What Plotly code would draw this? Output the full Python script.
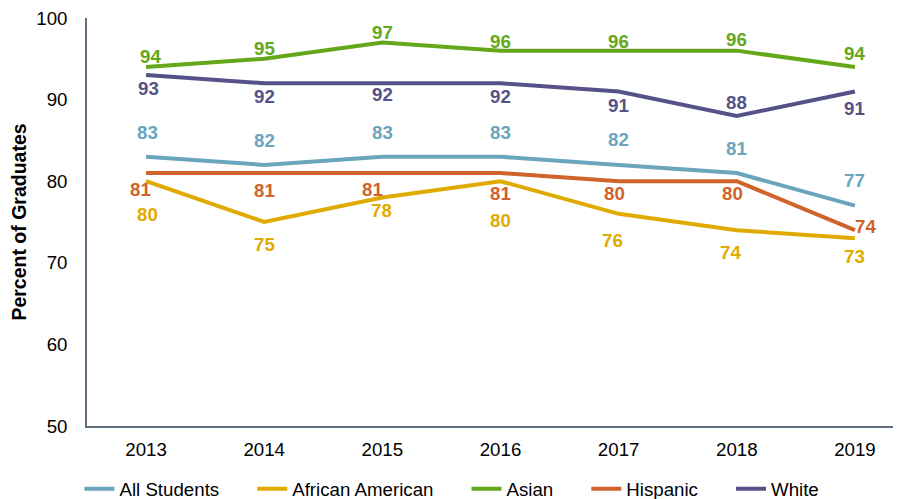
import plotly.graph_objects as go

years = ["2013", "2014", "2015", "2016", "2017", "2018", "2019"]
all_students = [83, 82, 83, 83, 82, 81, 77]
african_american = [80, 75, 78, 80, 76, 74, 73]
asian = [94, 95, 97, 96, 96, 96, 94]
hispanic = [81, 81, 81, 81, 80, 80, 74]
white = [93, 92, 92, 92, 91, 88, 91]

series_names = ["All Students", "African American", "Asian", "Hispanic", "White"]
series_values = [all_students, african_american, asian, hispanic, white]

# style
colors = ["#6aa5bd", "#e0ab00", "#62a81a", "#d0622a", "#545288"]
# label offsets in px (dy: positive = down on screen, dx: positive = right)
label_dy = [
    [-24, -24, -24, -24, -25, -25, -25],
    [33, 22, 13, 39, 27, 22, 18],
    [-10, -10, -10, -9, -9, -11, -13],
    [16, 17, 16, 20, 12, 12, -4],
    [13, 13, 11, 13, 14, -13, 17],
]
label_dx = [
    [1, 0, 0, 0, 0, 0, 0],
    [1, 0, -1, 0, -6, -6, 0],
    [4, 0, 0, 0, 0, 0, 0],
    [-6, 0, -10, 0, -4, -4, 11],
    [2, 0, 0, 0, 0, 0, 0],
]
LEGEND_PAD = "\u2003\u2002"  # extra spacing after each legend entry
FS = 18.7

FONT = "Arial, Liberation Sans, sans-serif"
fig = go.Figure()
for i, (name, vals) in enumerate(zip(series_names, series_values)):
    fig.add_trace(go.Scatter(
        x=years, y=vals, mode="lines", name=name + LEGEND_PAD,
        line=dict(color=colors[i], width=4),
        hovertemplate=name + ": %{y}<extra></extra>",
    ))

for i, (name, vals) in enumerate(zip(series_names, series_values)):
    for j, v in enumerate(vals):
        fig.add_annotation(
            x=j, y=v, xref="x", yref="y", text="<b>%d</b>" % v,
            showarrow=False, xanchor="center", yanchor="middle",
            xshift=label_dx[i][j], yshift=-label_dy[i][j],
            font=dict(family=FONT, size=FS, color=colors[i]),
        )

# page body has an 8px margin, so the figure starts at (8, 8)
fig.update_layout(
    width=893, height=491,
    margin=dict(l=75, r=0, t=10, b=73),
    paper_bgcolor="white", plot_bgcolor="white",
    font=dict(family=FONT, size=FS, color="#000000"),
    showlegend=True,
    legend=dict(
        orientation="h", xref="container", yref="container",
        x=0.080, xanchor="left", y=0.02, yanchor="middle",
        font=dict(family=FONT, size=FS, color="#000000"),
        traceorder="normal",
    ),
    xaxis=dict(
        type="category", range=[-0.5, 6.39],
        showgrid=False, zeroline=False,
        showline=True, linecolor="#5f6e7e", linewidth=1.5,
        ticks="", ticklabelstandoff=6, ticklabeloverflow="allow",
        tickfont=dict(family=FONT, size=FS, color="#000000"),
    ),
    yaxis=dict(
        range=[50, 100], tickvals=[50, 60, 70, 80, 90, 100],
        showgrid=False, zeroline=False,
        showline=True, linecolor="#5f6e7e", linewidth=1.5,
        ticks="outside", ticklen=14, tickcolor="rgba(0,0,0,0)",
        ticklabeloverflow="allow",
        tickfont=dict(family=FONT, size=FS, color="#000000"),
        title=dict(text="<b>Percent of Graduates</b>",
                   font=dict(family=FONT, size=19.5, color="#000000")),
    ),
)

fig.write_html("out.html")
